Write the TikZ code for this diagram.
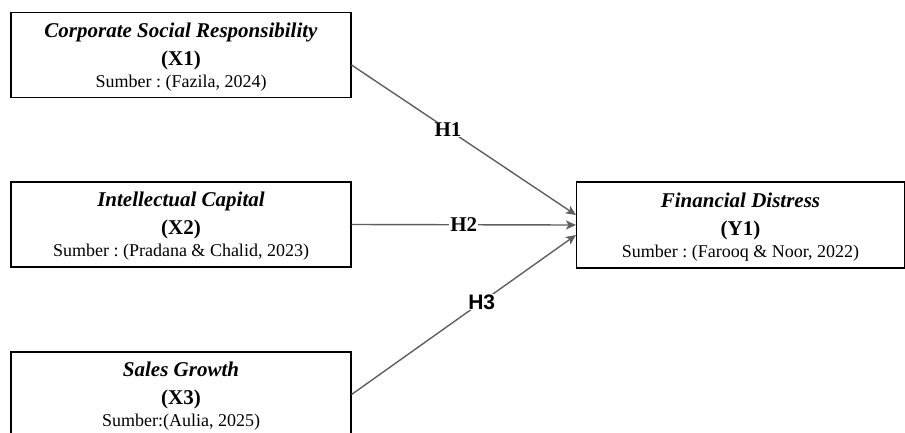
\documentclass[tikz,border=0pt]{standalone}
\usepackage{fontspec}
\setmainfont{Liberation Serif}
\setsansfont{Liberation Sans}
\usetikzlibrary{arrows.meta}
\tikzset{>={Stealth[length=10pt,width=9pt,inset=2.5pt]}}
\definecolor{linegray}{RGB}{95,95,95}
\frenchspacing
\newcommand{\vname}[1]{{\fontsize{21}{22}\selectfont\bfseries\itshape\rule{0pt}{18pt}#1}}
\newcommand{\vcode}[1]{{\fontsize{21}{22}\selectfont\bfseries #1}}

\begin{document}
\begin{tikzpicture}[x=1pt,y=-1pt]

\tikzstyle{var}=[draw,line width=1.1pt,minimum width=340pt,minimum height=85pt,
  align=center,inner sep=0pt,font=\fontsize{18}{22}\selectfont]
\tikzstyle{link}=[->,draw=linegray,line width=1.4pt]
\tikzstyle{hyp}=[fill=white,inner sep=1pt,font=\fontsize{21}{21}\selectfont\bfseries]

\useasboundingbox (0,0) rectangle (905,432);

% independent variables
\node[var] (x1) at (181,55) {\vname{Corporate Social Responsibility}\\[6pt]
  \vcode{(X1)}\\Sumber : (Fazila, 2024)};
\node[var] (x2) at (181,224.5) {\vname{Intellectual Capital}\\[6pt]
  \vcode{(X2)}\\Sumber : (Pradana \& Chalid, 2023)};
\node[var] (x3) at (181,394.5) {\vname{Sales Growth}\\[6pt]
  \vcode{(X3)}\\Sumber:(Aulia, 2025)};

% dependent variable
\node[var,minimum width=328pt,minimum height=86pt] (y1) at (740.5,225)
  {\vname{Financial Distress}\\[6pt]\vcode{(Y1)}\\Sumber : (Farooq \& Noor, 2022)};

% hypotheses
\draw[link] ([yshift=-10pt]x1.east) -- ([yshift=10pt]y1.west)
  node[hyp,pos=0.43] (h1) {H1};
\draw[link] (x2.east) -- (y1.west)
  node[hyp,pos=0.5] (h2) {H2};
\draw[link] (x3.east) -- ([yshift=-10pt]y1.west)
  node[hyp,pos=0.58,font=\fontsize{21}{21}\selectfont\sffamily\bfseries] (h3) {H3};

\end{tikzpicture}
\end{document}
